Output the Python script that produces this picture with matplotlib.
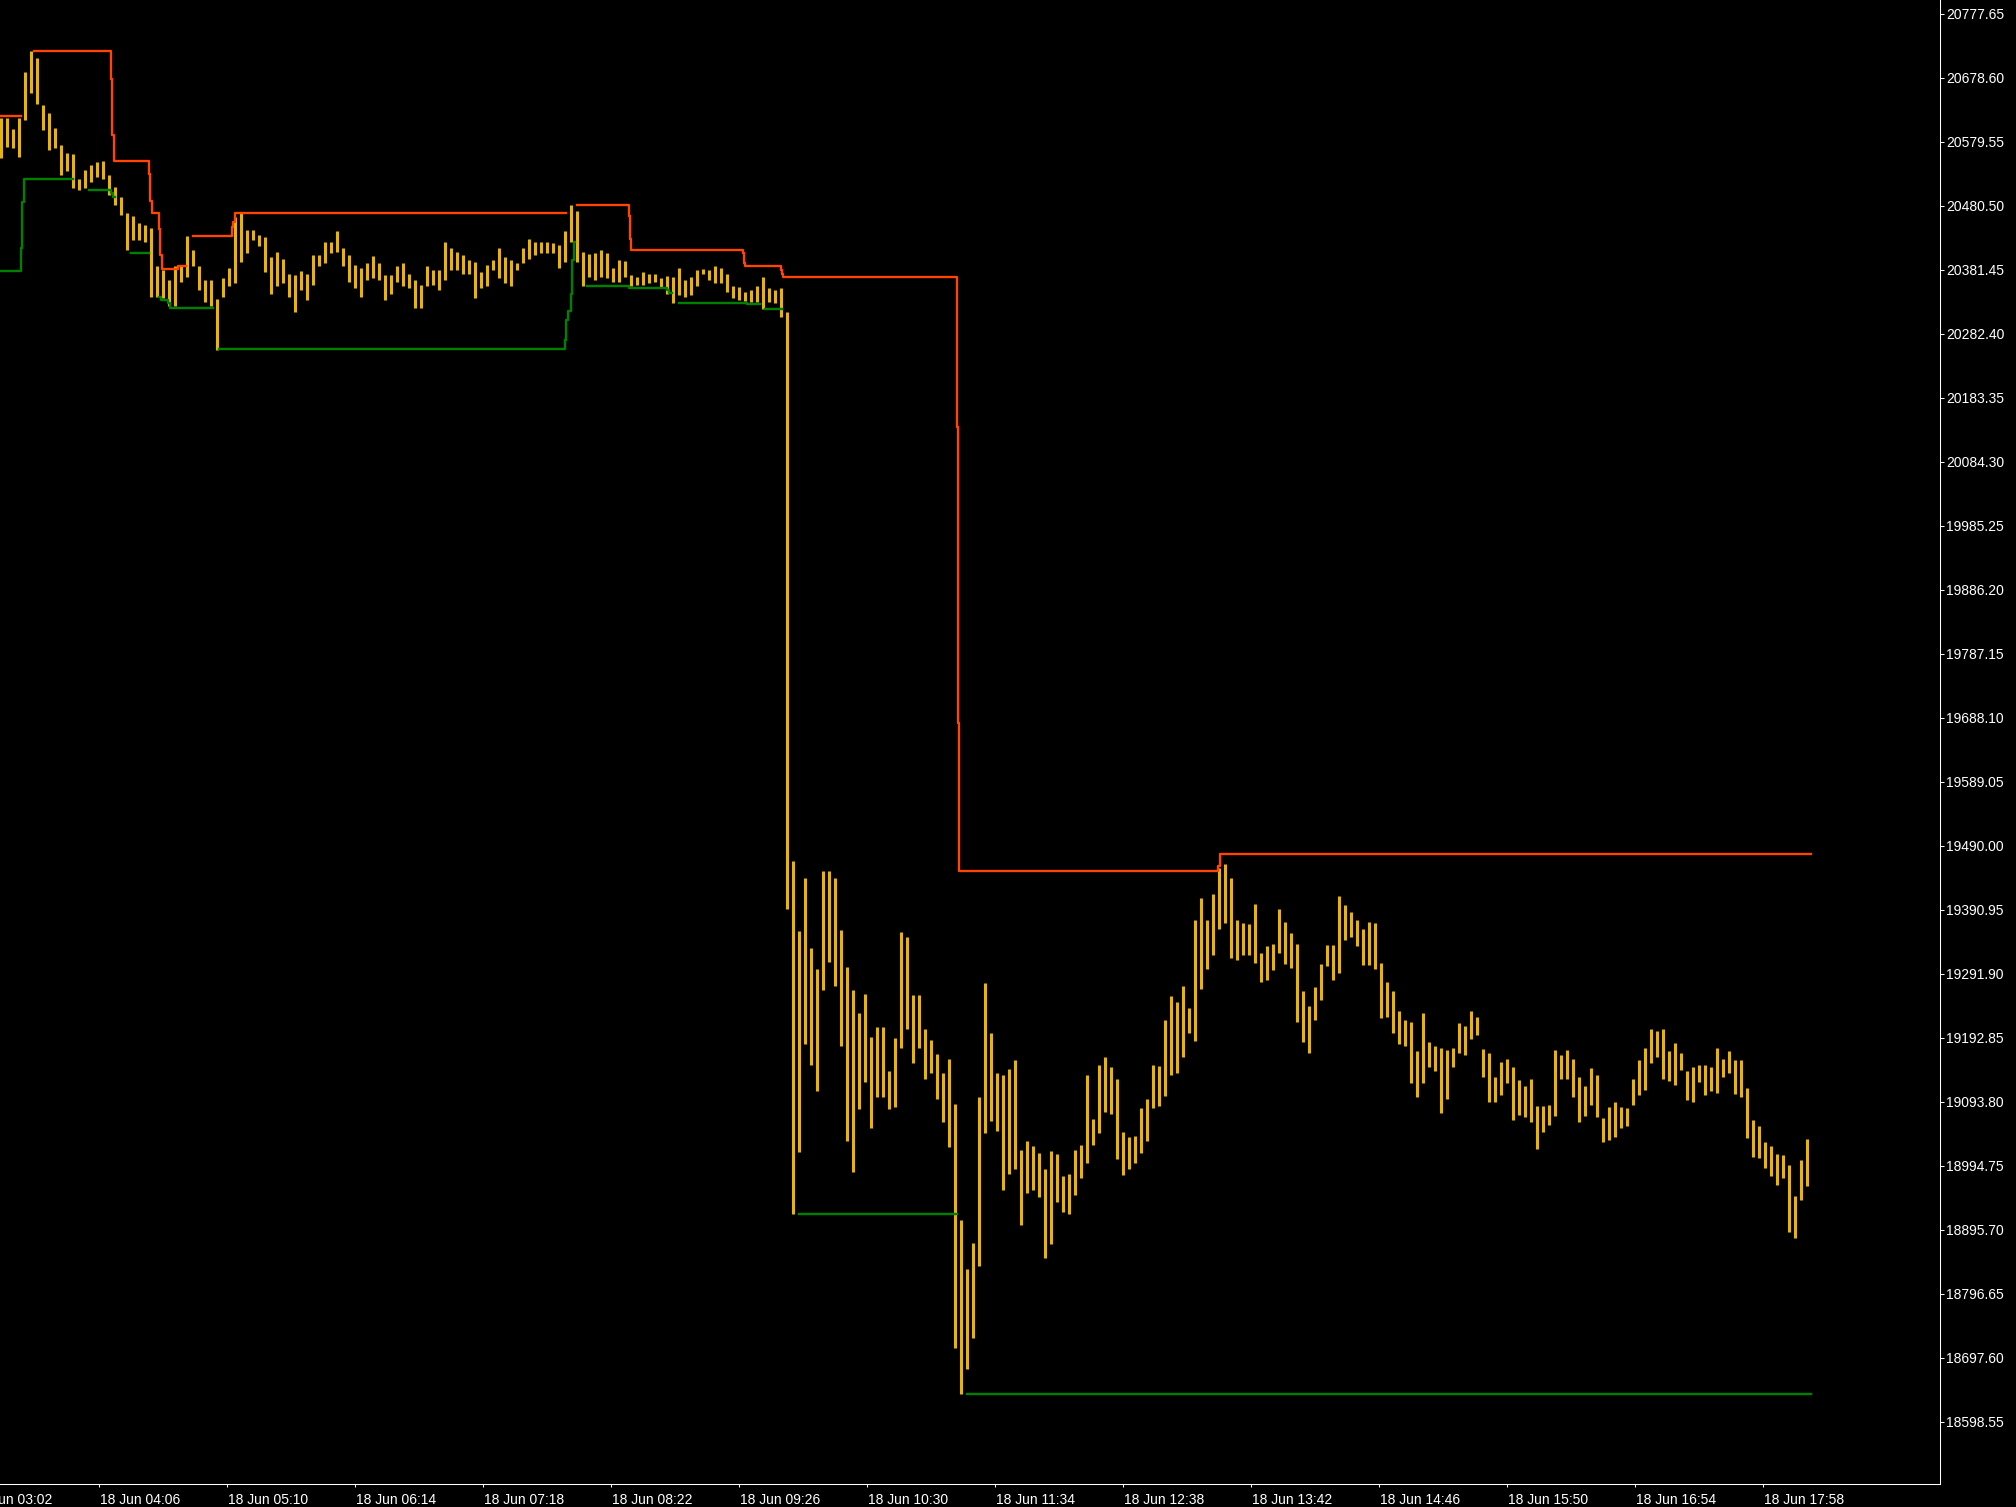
import numpy as np
import pandas as pd
import matplotlib
matplotlib.use("Agg")
import matplotlib.pyplot as plt

plt.rcParams['font.family'] = ['Liberation Sans', 'DejaVu Sans']

# price bars (3 minute high/low), time = minutes after 18 Jun 03:02
bar_first = 15
bar_step = 3
bar_high = [
    20616, 20616, 20599, 20616, 20688, 20720, 20709, 20637, 20624, 20601,  # 03:17
    20575, 20562, 20561, 20523, 20536, 20544, 20549, 20550, 20528, 20510,  # 03:47
    20495, 20469, 20465, 20454, 20451, 20446, 20387, 20381, 20366, 20387,  # 04:17
    20387, 20434, 20412, 20387, 20366, 20366, 20336, 20369, 20384, 20464,  # 04:47
    20469, 20443, 20444, 20436, 20432, 20402, 20410, 20399, 20376, 20374,  # 05:17
    20380, 20376, 20405, 20405, 20424, 20425, 20442, 20415, 20405, 20389,  # 05:47
    20384, 20392, 20403, 20392, 20374, 20374, 20387, 20392, 20376, 20366,  # 06:17
    20358, 20387, 20382, 20381, 20425, 20416, 20410, 20405, 20397, 20394,  # 06:47
    20379, 20389, 20397, 20415, 20402, 20397, 20392, 20415, 20430, 20425,  # 07:17
    20425, 20424, 20423, 20420, 20442, 20482, 20472, 20410, 20406, 20407,  # 07:47
    20412, 20407, 20384, 20397, 20395, 20374, 20371, 20379, 20376, 20375,  # 08:17
    20369, 20372, 20371, 20384, 20366, 20371, 20381, 20383, 20382, 20388,  # 08:47
    20384, 20376, 20356, 20355, 20348, 20350, 20356, 20371, 20353, 20351,  # 09:17
    20353, 20317, 19466, 19358, 19440, 19332, 19300, 19451, 19451, 19441,  # 09:47
    19360, 19303, 19267, 19231, 19261, 19195, 19210, 19210, 19142, 19193,  # 10:17
    19357, 19349, 19259, 19259, 19206, 19190, 19168, 19139, 19160, 19091,  # 10:47
    18911, 18836, 18876, 19101, 19278, 19201, 19139, 19136, 19145, 19158,  # 11:17
    19020, 19033, 19026, 19015, 18990, 19018, 19014, 18979, 18982, 19020,  # 11:47
    19027, 19135, 19068, 19151, 19163, 19148, 19129, 19047, 19040, 19041,  # 12:17
    19085, 19099, 19151, 19150, 19221, 19258, 19249, 19273, 19239, 19375,  # 12:47
    19410, 19375, 19416, 19456, 19462, 19441, 19375, 19371, 19369, 19400,  # 13:17
    19325, 19335, 19338, 19392, 19373, 19356, 19338, 19265, 19242, 19272,  # 13:47
    19308, 19337, 19337, 19413, 19399, 19388, 19376, 19361, 19373, 19371,  # 14:17
    19309, 19280, 19266, 19234, 19221, 19217, 19172, 19231, 19186, 19180,  # 14:47
    19177, 19174, 19177, 19216, 19211, 19234, 19226, 19175, 19169, 19133,  # 15:17
    19156, 19160, 19148, 19128, 19118, 19129, 19088, 19088, 19089, 19174,  # 15:47
    19167, 19174, 19161, 19133, 19119, 19146, 19136, 19069, 19086, 19093,  # 16:17
    19086, 19084, 19130, 19158, 19177, 19206, 19203, 19206, 19172, 19185,  # 16:47
    19169, 19142, 19148, 19151, 19151, 19148, 19177, 19161, 19172, 19158,  # 17:17
    19158, 19115, 19066, 19056, 19032, 19025, 19014, 19012, 18996, 18948,  # 17:47
    19004, 19036,
]
bar_low = [
    20554, 20572, 20570, 20557, 20614, 20655, 20639, 20598, 20567, 20570,
    20528, 20534, 20508, 20505, 20508, 20518, 20526, 20523, 20497, 20482,
    20467, 20412, 20428, 20428, 20425, 20340, 20340, 20338, 20325, 20325,
    20363, 20371, 20387, 20350, 20332, 20325, 20258, 20340, 20356, 20361,
    20394, 20407, 20428, 20418, 20379, 20345, 20356, 20361, 20340, 20317,
    20350, 20335, 20358, 20387, 20392, 20407, 20410, 20387, 20363, 20353,
    20340, 20366, 20369, 20366, 20335, 20345, 20363, 20356, 20353, 20322,
    20322, 20356, 20358, 20350, 20366, 20381, 20381, 20376, 20376, 20338,
    20353, 20356, 20381, 20369, 20361, 20356, 20381, 20392, 20399, 20405,
    20407, 20407, 20407, 20384, 20394, 20425, 20394, 20356, 20371, 20366,
    20371, 20369, 20363, 20363, 20371, 20356, 20358, 20358, 20361, 20363,
    20353, 20345, 20331, 20343, 20340, 20343, 20356, 20376, 20366, 20361,
    20361, 20348, 20338, 20335, 20334, 20332, 20332, 20321, 20332, 20331,
    20309, 19393, 18920, 19016, 19184, 19151, 19110, 19267, 19311, 19273,
    19181, 19033, 18985, 19083, 19124, 19053, 19101, 19101, 19083, 19086,
    19178, 19207, 19154, 19178, 19129, 19139, 19098, 19062, 19024, 18713,
    18642, 18680, 18728, 18840, 19045, 19065, 19049, 18957, 18982, 18990,
    18904, 18953, 18957, 18947, 18852, 18874, 18939, 18923, 18920, 18950,
    18976, 18999, 19027, 19046, 19079, 19075, 19006, 18981, 18990, 19000,
    19015, 19034, 19085, 19087, 19103, 19135, 19138, 19164, 19201, 19188,
    19268, 19299, 19322, 19361, 19371, 19316, 19314, 19322, 19321, 19309,
    19280, 19282, 19298, 19325, 19308, 19301, 19218, 19187, 19170, 19221,
    19252, 19304, 19283, 19294, 19345, 19349, 19335, 19306, 19306, 19299,
    19223, 19226, 19201, 19184, 19180, 19123, 19102, 19123, 19148, 19141,
    19077, 19099, 19148, 19169, 19167, 19192, 19198, 19132, 19094, 19093,
    19105, 19123, 19066, 19074, 19070, 19063, 19021, 19048, 19058, 19072,
    19130, 19130, 19101, 19063, 19072, 19089, 19070, 19032, 19035, 19039,
    19053, 19056, 19089, 19105, 19113, 19154, 19163, 19129, 19127, 19120,
    19143, 19097, 19094, 19125, 19105, 19110, 19107, 19133, 19138, 19106,
    19102, 19038, 19009, 19007, 18991, 18979, 18965, 18976, 18893, 18884,
    18942, 18964,
]

# upper channel line (nan = no value)
red_t = [14.5, 25, 31.3, 70, 70.7, 71.3, 89, 89.7, 90.3, 94, 94.7, 95.3,
         103.5, 107.7, 111, 130.3, 131, 132, 297.3, 302.8, 329.2, 329.6, 330,
         385.8, 386.4, 387, 404.8, 405.4, 406.2, 492.8, 493.5, 494.2,
         623.3, 624.3, 919.8]
red_v = [20620, np.nan, 20720, 20677, 20591, 20550, 20530, 20488, 20469, 20445, 20404, 20383,
         20387, np.nan, 20434, 20448, 20456, 20469, np.nan, 20482, 20465, 20429, 20412,
         20407, 20392, 20388, 20382, 20375, 20370, 20139, 19680, 19451,
         19459, 19478, 19478]

# lower channel line
green_t = [14.5, 25, 25.7, 26.3, 51.2, 59.1, 70, 70.8, 71.9, 80.1, 89.1,
           93.9, 94.8, 98.7, 99.5, 121.1, 124, 297, 297.7, 298.3, 300, 300.7, 301.3,
           302, 307.8, 329.2, 347.8, 348.8, 350.3, 354.2, 387.8, 394.5, 397, 405.3,
           414, 493.2, 498.2, 919.8]
green_v = [20380, 20415, 20487, 20522, np.nan, 20505, 20500, 20495, np.nan, 20407, np.nan,
           20339, 20335, 20331, 20322, np.nan, 20259, 20273, 20304, 20318, 20345, 20397, 20424,
           np.nan, 20357, 20353, 20350, 20346, np.nan, 20331, 20329, np.nan, 20321, np.nan,
           18920, np.nan, 18642, 18642]

base_time = pd.Timestamp("2024-06-18 03:02")
label_every = 64
n_labels = 15

price_top = 20777.65
price_step = 99.05
n_prices = 23

W, H = 2016, 1507
fig = plt.figure(figsize=(W / 100, H / 100), dpi=100, facecolor='black')
ax = fig.add_axes([0, 23 / H, 1940 / W, 1 - 23 / H])
ax.set_facecolor('black')

bar_time = bar_first + bar_step * np.arange(len(bar_high))
ax.vlines(bar_time, bar_low, bar_high, colors='#E2B60E', linewidth=2.2)
ax.step(red_t, red_v, where='post', color='#FF4500', lw=1.7)
ax.step(green_t, green_v, where='post', color='#008000', lw=1.7)

ax.set_xlim(14.5, 984.5)
ax.set_ylim(18502.5, 20799.3)

# price scale on the right
yt = price_top - price_step * np.arange(n_prices)
ax.yaxis.tick_right()
ax.set_yticks(yt)
ax.set_yticklabels([f"{v:.2f}" for v in yt])
ax.tick_params(axis='y', colors='white', length=2.9, width=0.75, pad=1.5, labelsize=10)

# time scale
tt = label_every * np.arange(n_labels)
ax.set_xticks(tt[tt > 14.5])
ax.set_xticklabels([])
ax.tick_params(axis='x', colors='white', length=2.2, width=0.75)
for t in tt:
    s = (base_time + pd.Timedelta(minutes=int(t))).strftime('%d %b %H:%M')
    ax.annotate(s, xy=(t, 0), xycoords=ax.get_xaxis_transform(),
                xytext=(1, -14.4), textcoords='offset points',
                ha='left', va='baseline', color='white', fontsize=10,
                annotation_clip=False)

for side in ['left', 'top']:
    ax.spines[side].set_visible(False)
for side in ['right', 'bottom']:
    ax.spines[side].set_color('white')
    ax.spines[side].set_linewidth(0.75)

fig.savefig('out.png', dpi=100, facecolor='black')
